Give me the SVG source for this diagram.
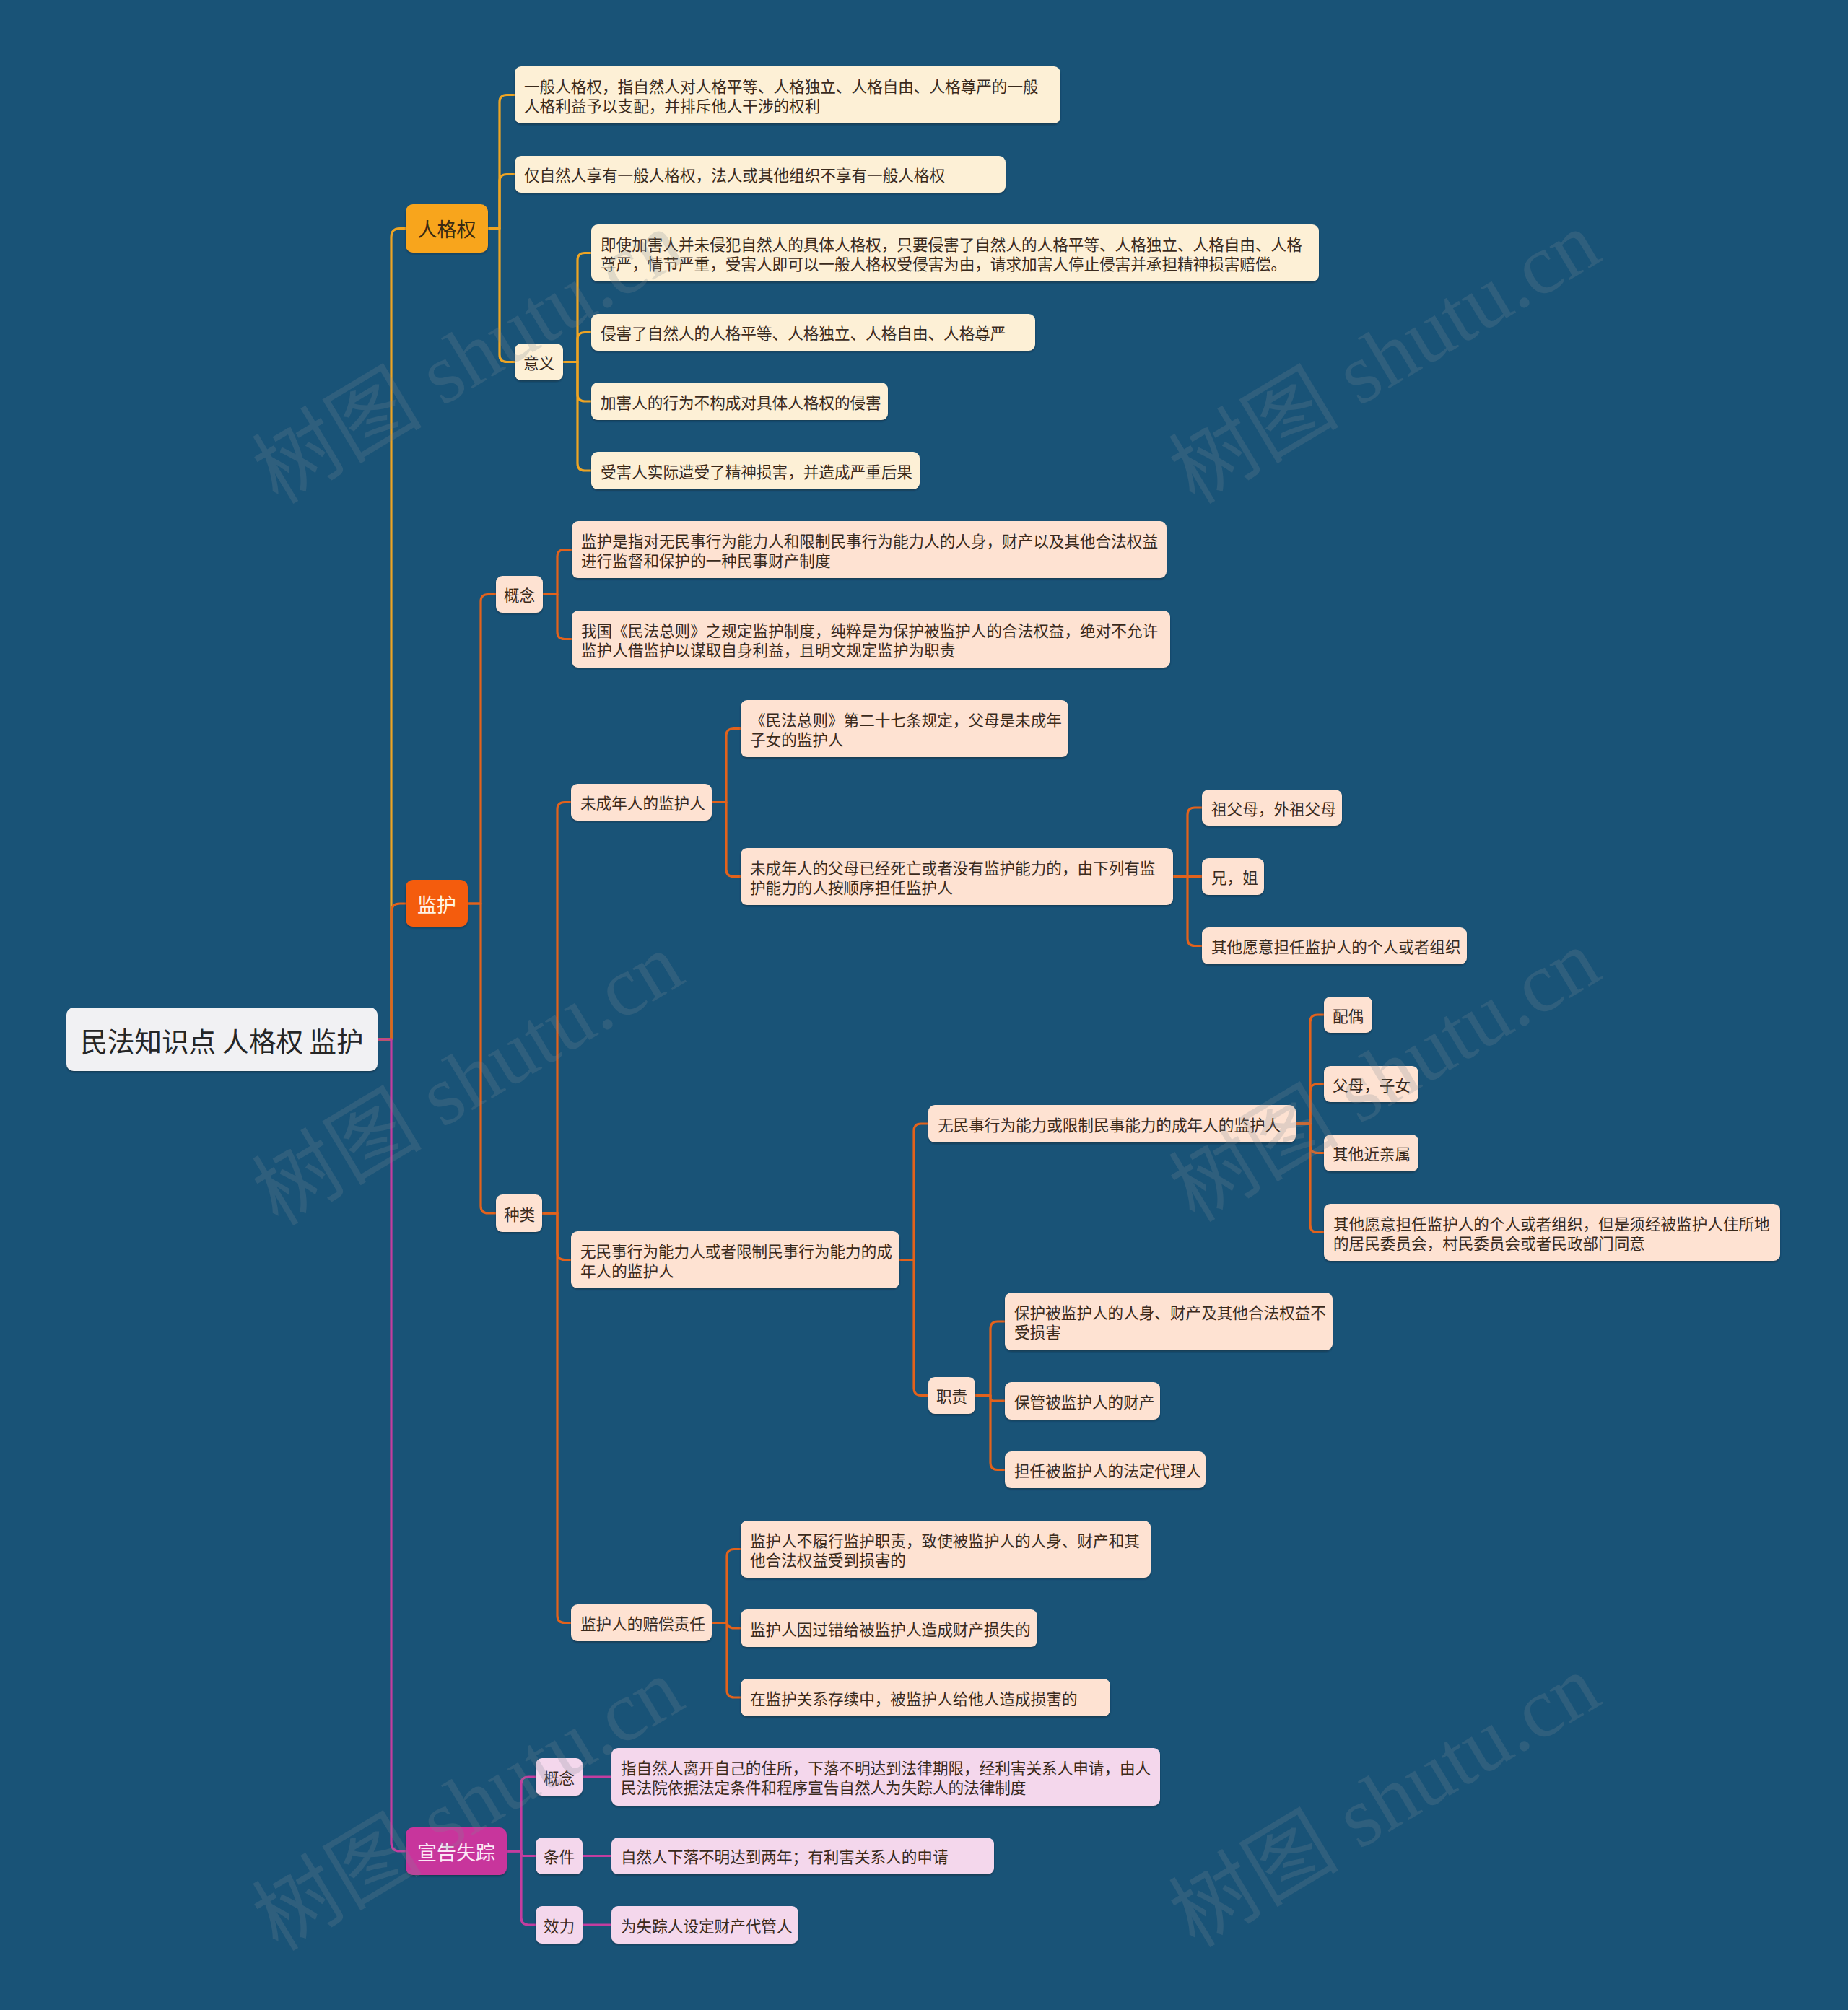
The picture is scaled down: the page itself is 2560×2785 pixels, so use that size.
<svg xmlns="http://www.w3.org/2000/svg" width="2560" height="2785" viewBox="0 0 2560 2785">
<defs>
<filter id="sh" x="-5%" y="-10%" width="110%" height="130%">
<feDropShadow dx="0" dy="2" stdDeviation="1.2" flood-color="#0a2a40" flood-opacity="0.6"/>
</filter>
<style>
text{font-family:"Noto Sans CJK SC","Noto Sans",sans-serif;}
.t{font-size:21.6px;fill:#3a2a1c;dominant-baseline:central;}
.tc{text-anchor:middle;}
.box{filter:url(#sh);}
.ra{fill:#FDF0D6;}
.jh{fill:#FEE2D2;}
.xg{fill:#F4D7EC;}
.c{fill:none;stroke-width:3.2;stroke-linejoin:round;stroke-linecap:round;}
.cy{stroke:#EDA424;}
.co{stroke:#E2621C;}
.cm{stroke:#C43D9F;}
.wm{font-family:"Liberation Serif","Noto Sans CJK SC",serif;font-size:118px;fill:#7d8a94;opacity:0.22;}
</style>
</defs>
<rect x="0" y="0" width="2560" height="2785" fill="#195377"/>

<g id="connectors">
<path class="c cy" stroke-width="4" d="M523 1440 H542 V328.5 Q542 316.5 554 316.5 H562"/>
<path class="c co" stroke-width="4" d="M523 1440 H542 V1264 Q542 1252 554 1252 H562"/>
<path class="c cm" stroke-width="4" d="M523 1440 H542 V2553 Q542 2565 554 2565 H562"/>

<path class="c cy" d="M676 316.5 H692 V141.5 Q692 131.5 702 131.5 H713"/>
<path class="c cy" d="M676 316.5 H692 V251.5 Q692 241.5 702 241.5 H713"/>
<path class="c cy" d="M676 316.5 H692 V491.5 Q692 501.5 702 501.5 H713"/>
<path class="c cy" d="M780 501.5 H800 V360.5 Q800 350.5 810 350.5 H819"/>
<path class="c cy" d="M780 501.5 H800 V470.5 Q800 460.5 810 460.5 H819"/>
<path class="c cy" d="M780 501.5 H800 V546 Q800 556 810 556 H819"/>
<path class="c cy" d="M780 501.5 H800 V642 Q800 652 810 652 H819"/>

<path class="c co" d="M648 1252 H666 V833.5 Q666 823.5 676 823.5 H687"/>
<path class="c co" d="M648 1252 H666 V1671 Q666 1681 676 1681 H687"/>
<path class="c co" d="M752 823.5 H772 V771.5 Q772 761.5 782 761.5 H792"/>
<path class="c co" d="M752 823.5 H772 V875.5 Q772 885.5 782 885.5 H792"/>
<path class="c co" d="M751 1681 H772 V1121.5 Q772 1111.5 782 1111.5 H791"/>
<path class="c co" d="M751 1681 H772 V1735.5 Q772 1745.5 782 1745.5 H791"/>
<path class="c co" d="M751 1681 H772 V2238.5 Q772 2248.5 782 2248.5 H791"/>
<path class="c co" d="M986 1111.5 H1006 V1019.5 Q1006 1009.5 1016 1009.5 H1026"/>
<path class="c co" d="M986 1111.5 H1006 V1204.5 Q1006 1214.5 1016 1214.5 H1026"/>
<path class="c co" d="M1625 1214.5 H1645 V1129 Q1645 1119 1655 1119 H1665"/>
<path class="c co" d="M1625 1214.5 H1665"/>
<path class="c co" d="M1625 1214.5 H1645 V1300.5 Q1645 1310.5 1655 1310.5 H1665"/>
<path class="c co" d="M1246 1745.5 H1266 V1567 Q1266 1557 1276 1557 H1286"/>
<path class="c co" d="M1246 1745.5 H1266 V1923.5 Q1266 1933.5 1276 1933.5 H1286"/>
<path class="c co" d="M1795 1557 H1815 V1416 Q1815 1406 1825 1406 H1834"/>
<path class="c co" d="M1795 1557 H1815 V1512 Q1815 1502 1825 1502 H1834"/>
<path class="c co" d="M1795 1557 H1815 V1587.5 Q1815 1597.5 1825 1597.5 H1834"/>
<path class="c co" d="M1795 1557 H1815 V1697.5 Q1815 1707.5 1825 1707.5 H1834"/>
<path class="c co" d="M1351 1933.5 H1372 V1841 Q1372 1831 1382 1831 H1392"/>
<path class="c co" d="M1351 1933.5 H1372 V1937.5 Q1372 1941 1376 1941 H1392"/>
<path class="c co" d="M1351 1933.5 H1372 V2026.5 Q1372 2036.5 1382 2036.5 H1392"/>
<path class="c co" d="M986 2248.5 H1007 V2156.5 Q1007 2146.5 1017 2146.5 H1026"/>
<path class="c co" d="M986 2248.5 H1007 V2246 Q1007 2256 1017 2256 H1026"/>
<path class="c co" d="M986 2248.5 H1007 V2342 Q1007 2352 1017 2352 H1026"/>

<path class="c cm" d="M702 2565 H722 V2472 Q722 2462 732 2462 H742"/>
<path class="c cm" d="M702 2565 H722 V2568 Q722 2571.5 725.5 2571.5 H742"/>
<path class="c cm" d="M702 2565 H722 V2657 Q722 2667 732 2667 H742"/>
<path class="c cm" stroke-width="4.5" d="M807 2462 H847"/>
<path class="c cm" stroke-width="4.5" d="M807 2571.5 H847"/>
<path class="c cm" stroke-width="4.5" d="M807 2667 H847"/>
</g>

<g id="root"><rect class="box" x="92" y="1396" width="431" height="88" rx="10" fill="#F1F1F3"/><text x="307.5" y="1440" class="tc" style="font-size:37.5px;fill:#262626;dominant-baseline:central">民法知识点 人格权 监护</text></g>

<g id="n-rgq"><rect class="box" x="562" y="283" width="114" height="67" rx="10" fill="#F8A51F"/><text x="619" y="316.5" class="tc" style="font-size:27px;fill:#3a2a12;dominant-baseline:central">人格权</text></g>
<g id="n-jh"><rect class="box" x="562" y="1219" width="86" height="65" rx="10" fill="#F45C0B"/><text x="605" y="1252" class="tc" style="font-size:27px;fill:#FFF3E6;dominant-baseline:central">监护</text></g>
<g id="n-xgsz"><rect class="box" x="562" y="2532" width="140" height="66" rx="10" fill="#C8359C"/><text x="632" y="2565" class="tc" style="font-size:27px;fill:#FCE8F6;dominant-baseline:central">宣告失踪</text></g>

<g id="n-a1"><rect class="box ra" x="713" y="92" width="756" height="79" rx="9"/><text class="t" x="726" y="118">一般人格权，指自然人对人格平等、人格独立、人格自由、人格尊严的一般</text><text class="t" x="726" y="145">人格利益予以支配，并排斥他人干涉的权利</text></g>
<g id="n-a2"><rect class="box ra" x="713" y="216" width="680" height="51" rx="9"/><text class="t" x="726" y="241.5">仅自然人享有一般人格权，法人或其他组织不享有一般人格权</text></g>
<g id="n-yy"><rect class="box ra" x="713" y="476" width="67" height="51" rx="9"/><text class="t" x="725" y="501.5">意义</text></g>
<g id="n-b1"><rect class="box ra" x="819" y="311" width="1008" height="79" rx="9"/><text class="t" x="832" y="337">即使加害人并未侵犯自然人的具体人格权，只要侵害了自然人的人格平等、人格独立、人格自由、人格</text><text class="t" x="832" y="364">尊严，情节严重，受害人即可以一般人格权受侵害为由，请求加害人停止侵害并承担精神损害赔偿。</text></g>
<g id="n-b2"><rect class="box ra" x="819" y="435" width="615" height="51" rx="9"/><text class="t" x="832" y="460.5">侵害了自然人的人格平等、人格独立、人格自由、人格尊严</text></g>
<g id="n-b3"><rect class="box ra" x="819" y="530" width="411" height="52" rx="9"/><text class="t" x="832" y="556">加害人的行为不构成对具体人格权的侵害</text></g>
<g id="n-b4"><rect class="box ra" x="819" y="626" width="455" height="52" rx="9"/><text class="t" x="832" y="652">受害人实际遭受了精神损害，并造成严重后果</text></g>

<g id="n-gn"><rect class="box jh" x="687" y="798" width="65" height="51" rx="9"/><text class="t" x="698" y="823.5">概念</text></g>
<g id="n-c1"><rect class="box jh" x="792" y="722" width="824" height="79" rx="9"/><text class="t" x="805" y="748">监护是指对无民事行为能力人和限制民事行为能力人的人身，财产以及其他合法权益</text><text class="t" x="805" y="775">进行监督和保护的一种民事财产制度</text></g>
<g id="n-c2"><rect class="box jh" x="792" y="846" width="829" height="79" rx="9"/><text class="t" x="805" y="872">我国《民法总则》之规定监护制度，纯粹是为保护被监护人的合法权益，绝对不允许</text><text class="t" x="805" y="899">监护人借监护以谋取自身利益，且明文规定监护为职责</text></g>
<g id="n-zl"><rect class="box jh" x="687" y="1655" width="64" height="52" rx="9"/><text class="t" x="698" y="1681">种类</text></g>
<g id="n-d1"><rect class="box jh" x="791" y="1086" width="195" height="51" rx="9"/><text class="t" x="804" y="1111.5">未成年人的监护人</text></g>
<g id="n-e1"><rect class="box jh" x="1026" y="970" width="454" height="79" rx="9"/><text class="t" x="1039" y="996">《民法总则》第二十七条规定，父母是未成年</text><text class="t" x="1039" y="1023">子女的监护人</text></g>
<g id="n-e2"><rect class="box jh" x="1026" y="1175" width="599" height="79" rx="9"/><text class="t" x="1039" y="1201">未成年人的父母已经死亡或者没有监护能力的，由下列有监</text><text class="t" x="1039" y="1228">护能力的人按顺序担任监护人</text></g>
<g id="n-f1"><rect class="box jh" x="1665" y="1094" width="194" height="50" rx="9"/><text class="t" x="1678" y="1119">祖父母，外祖父母</text></g>
<g id="n-f2"><rect class="box jh" x="1665" y="1189" width="86" height="51" rx="9"/><text class="t" x="1678" y="1214.5">兄，姐</text></g>
<g id="n-f3"><rect class="box jh" x="1665" y="1285" width="367" height="51" rx="9"/><text class="t" x="1678" y="1310.5">其他愿意担任监护人的个人或者组织</text></g>
<g id="n-d2"><rect class="box jh" x="791" y="1706" width="455" height="79" rx="9"/><text class="t" x="804" y="1732">无民事行为能力人或者限制民事行为能力的成</text><text class="t" x="804" y="1759">年人的监护人</text></g>
<g id="n-g1"><rect class="box jh" x="1286" y="1531" width="509" height="52" rx="9"/><text class="t" x="1299" y="1557">无民事行为能力或限制民事能力的成年人的监护人</text></g>
<g id="n-h1"><rect class="box jh" x="1834" y="1381" width="67" height="50" rx="9"/><text class="t" x="1846" y="1406">配偶</text></g>
<g id="n-h2"><rect class="box jh" x="1834" y="1477" width="131" height="50" rx="9"/><text class="t" x="1846" y="1502">父母，子女</text></g>
<g id="n-h3"><rect class="box jh" x="1834" y="1572" width="131" height="51" rx="9"/><text class="t" x="1846" y="1597.5">其他近亲属</text></g>
<g id="n-h4"><rect class="box jh" x="1834" y="1668" width="632" height="79" rx="9"/><text class="t" x="1847" y="1694">其他愿意担任监护人的个人或者组织，但是须经被监护人住所地</text><text class="t" x="1847" y="1721">的居民委员会，村民委员会或者民政部门同意</text></g>
<g id="n-g2"><rect class="box jh" x="1286" y="1908" width="65" height="51" rx="9"/><text class="t" x="1297" y="1933.5">职责</text></g>
<g id="n-i1"><rect class="box jh" x="1392" y="1791" width="454" height="80" rx="9"/><text class="t" x="1405" y="1817.5">保护被监护人的人身、财产及其他合法权益不</text><text class="t" x="1405" y="1844.5">受损害</text></g>
<g id="n-i2"><rect class="box jh" x="1392" y="1915" width="215" height="52" rx="9"/><text class="t" x="1405" y="1941">保管被监护人的财产</text></g>
<g id="n-i3"><rect class="box jh" x="1392" y="2011" width="278" height="51" rx="9"/><text class="t" x="1405" y="2036.5">担任被监护人的法定代理人</text></g>
<g id="n-d3"><rect class="box jh" x="791" y="2223" width="195" height="51" rx="9"/><text class="t" x="804" y="2248.5">监护人的赔偿责任</text></g>
<g id="n-j1"><rect class="box jh" x="1026" y="2107" width="568" height="79" rx="9"/><text class="t" x="1039" y="2133">监护人不履行监护职责，致使被监护人的人身、财产和其</text><text class="t" x="1039" y="2160">他合法权益受到损害的</text></g>
<g id="n-j2"><rect class="box jh" x="1026" y="2230" width="411" height="52" rx="9"/><text class="t" x="1039" y="2256">监护人因过错给被监护人造成财产损失的</text></g>
<g id="n-j3"><rect class="box jh" x="1026" y="2326" width="512" height="52" rx="9"/><text class="t" x="1039" y="2352">在监护关系存续中，被监护人给他人造成损害的</text></g>

<g id="n-k1"><rect class="box xg" x="742" y="2436" width="65" height="52" rx="9"/><text class="t" x="753" y="2462">概念</text></g>
<g id="n-l1"><rect class="box xg" x="847" y="2422" width="760" height="80" rx="9"/><text class="t" x="860" y="2448.5">指自然人离开自己的住所，下落不明达到法律期限，经利害关系人申请，由人</text><text class="t" x="860" y="2475.5">民法院依据法定条件和程序宣告自然人为失踪人的法律制度</text></g>
<g id="n-k2"><rect class="box xg" x="742" y="2546" width="65" height="51" rx="9"/><text class="t" x="753" y="2571.5">条件</text></g>
<g id="n-l2"><rect class="box xg" x="847" y="2546" width="530" height="51" rx="9"/><text class="t" x="860" y="2571.5">自然人下落不明达到两年；有利害关系人的申请</text></g>
<g id="n-k3"><rect class="box xg" x="742" y="2641" width="65" height="52" rx="9"/><text class="t" x="753" y="2667">效力</text></g>
<g id="n-l3"><rect class="box xg" x="847" y="2641" width="259" height="52" rx="9"/><text class="t" x="860" y="2667">为失踪人设定财产代管人</text></g>

<g id="watermark">
<text class="wm" transform="translate(385,700) rotate(-31)">树图 shutu.cn</text>
<text class="wm" transform="translate(1655,700) rotate(-31)">树图 shutu.cn</text>
<text class="wm" transform="translate(385,1700) rotate(-31)">树图 shutu.cn</text>
<text class="wm" transform="translate(1655,1695) rotate(-31)">树图 shutu.cn</text>
<text class="wm" transform="translate(385,2705) rotate(-31)">树图 shutu.cn</text>
<text class="wm" transform="translate(1655,2700) rotate(-31)">树图 shutu.cn</text>
</g>
</svg>
